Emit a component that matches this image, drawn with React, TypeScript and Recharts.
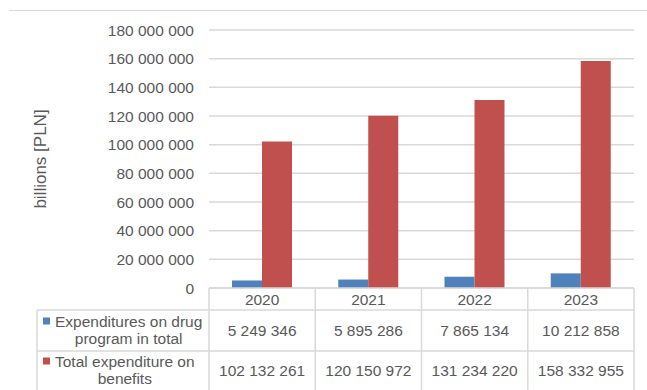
import { Bar, BarChart, CartesianGrid, Label, XAxis, YAxis } from "recharts";

const years = ["2020", "2021", "2022", "2023"];
const drugProgram = [5249346, 5895286, 7865134, 10212858];
const totalBenefits = [102132261, 120150972, 131234220, 158332955];
const yTicks = [
  0, 20000000, 40000000, 60000000, 80000000, 100000000, 120000000, 140000000,
  160000000, 180000000,
];
const seriesLabels = [
  ["Expenditures on drug", "program in total"],
  ["Total expenditure on", "benefits"],
];
const seriesColors = ["#4F81BD", "#C0504D"];
const seriesValues = [drugProgram, totalBenefits];

const data = years.map((year, i) => ({
  year,
  drug: drugProgram[i],
  total: totalBenefits[i],
}));

const WIDTH = 647;
const HEIGHT = 390;
const Y_AXIS_W = 209;
const RIGHT = 13;
const X_AXIS_H = 102;
const COL_W = (WIDTH - Y_AXIS_W - RIGHT) / years.length;
const ROWS = [22, 41, 39];
const HEADER_LEFT = 37;

const FONT = '"Liberation Sans", Arial, sans-serif';
const FONT_SIZE = 15.5;
const TEXT = "#595959";
const GRID = "#d9d9d9";

const fmt = (v: number) => v.toLocaleString("en-US").replace(/,/g, " ");

const ctx =
  typeof document !== "undefined"
    ? document.createElement("canvas").getContext("2d")
    : null;
const measure = (s: string) => {
  if (!ctx) return s.length * 7.5;
  ctx.font = `${FONT_SIZE}px "Liberation Sans"`;
  return ctx.measureText(s).width;
};

const textProps = {
  fill: TEXT,
  fontSize: FONT_SIZE,
  fontFamily: FONT,
  textAnchor: "middle" as const,
  dominantBaseline: "central" as const,
};

// series name cells on the left of the data table, with legend keys
function SeriesHeader({ right, top }: { right: number; top: number }) {
  let rowTop = top;
  return (
    <g>
      <line x1={HEADER_LEFT} y1={top} x2={HEADER_LEFT} y2={HEIGHT} stroke={GRID} strokeWidth={1.5} />
      {seriesLabels.map((lines, i) => {
        const h = ROWS[i + 1];
        const cy = rowTop + h / 2;
        const y0 = rowTop;
        rowTop += h;
        const textX = HEADER_LEFT + 18;
        const mid = textX + measure(lines[0]) / 2;
        return (
          <g key={i}>
            <line x1={HEADER_LEFT} y1={y0} x2={right} y2={y0} stroke={GRID} strokeWidth={1.5} />
            <rect x={HEADER_LEFT + 6} y={cy - 13} width={7} height={7} fill={seriesColors[i]} />
            <text {...textProps} x={mid} y={cy - 9}>
              {lines[0]}
            </text>
            <text {...textProps} x={mid} y={cy + 8}>
              {lines[1]}
            </text>
          </g>
        );
      })}
    </g>
  );
}

function TableTick(props: any) {
  const { x, y, index } = props;
  const left = x - COL_W / 2;
  const right = x + COL_W / 2;
  const r1 = y + ROWS[0];
  const r2 = r1 + ROWS[1];
  const r3 = r2 + ROWS[2];
  return (
    <g>
      <line x1={left} y1={y} x2={left} y2={r3} stroke={GRID} strokeWidth={1.5} />
      {index === years.length - 1 && (
        <line x1={right} y1={y} x2={right} y2={r3} stroke={GRID} strokeWidth={1.5} />
      )}
      <line x1={left} y1={r1} x2={right} y2={r1} stroke={GRID} strokeWidth={1.5} />
      <line x1={left} y1={r2} x2={right} y2={r2} stroke={GRID} strokeWidth={1.5} />
      <text {...textProps} x={x} y={(y + r1) / 2}>
        {years[index]}
      </text>
      <text {...textProps} x={x} y={(r1 + r2) / 2}>
        {fmt(seriesValues[0][index])}
      </text>
      <text {...textProps} x={x} y={(r2 + r3) / 2}>
        {fmt(seriesValues[1][index])}
      </text>
      {index === 0 && <SeriesHeader right={left} top={r1} />}
    </g>
  );
}

export default function App() {
  return (
    <div style={{ position: "absolute", left: 0, top: 0, width: WIDTH, height: HEIGHT, background: "#fff" }}>
      <div
        style={{
          position: "absolute",
          left: 9,
          top: 10,
          width: WIDTH - 9,
          borderTop: `1.5px solid ${GRID}`,
        }}
      />
      <BarChart
        width={WIDTH}
        height={HEIGHT}
        data={data}
        margin={{ top: 30, right: RIGHT, left: 0, bottom: 0 }}
        barGap={0}
      >
        <CartesianGrid vertical={false} stroke={GRID} strokeWidth={1.5} />
        <XAxis
          dataKey="year"
          height={X_AXIS_H}
          interval={0}
          tickLine={false}
          tickSize={0}
          tickMargin={0}
          axisLine={{ stroke: GRID, strokeWidth: 1.5 }}
          tick={<TableTick />}
        />
        <YAxis
          width={Y_AXIS_W}
          domain={[0, 180000000]}
          ticks={yTicks}
          interval={0}
          tickFormatter={fmt}
          axisLine={false}
          tickLine={false}
          tickMargin={9}
          tick={{ fill: TEXT, fontSize: FONT_SIZE, fontFamily: FONT }}
        >
          <Label
            content={({ viewBox }: any) => {
              const cy = viewBox.y + viewBox.height / 2;
              return (
                <text {...textProps} fontSize={17} x={40} y={cy} transform={`rotate(-90 40 ${cy})`}>
                  billions [PLN]
                </text>
              );
            }}
          />
        </YAxis>
        <Bar dataKey="drug" fill={seriesColors[0]} barSize={30} isAnimationActive={false} />
        <Bar dataKey="total" fill={seriesColors[1]} barSize={30} isAnimationActive={false} />
      </BarChart>
    </div>
  );
}
